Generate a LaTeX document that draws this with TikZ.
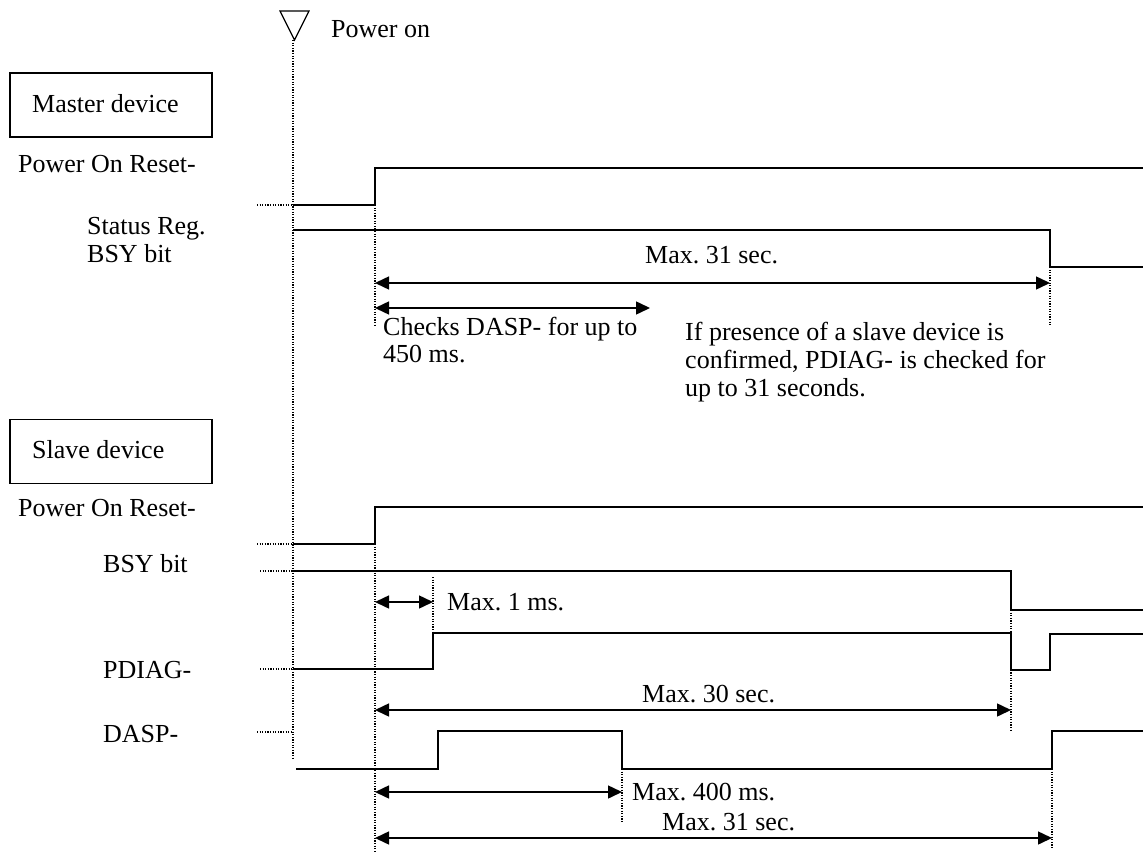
\documentclass[tikz,border=0pt]{standalone}
\usepackage{fontspec}
\setmainfont{Liberation Serif}
\usetikzlibrary{arrows.meta}
\frenchspacing
\begin{document}
\begin{tikzpicture}[x=1pt,y=-1pt,
  sig/.style={line width=1.5pt, line join=miter},
  guide/.style={line width=1.3pt, dash pattern=on 1.2pt off 1.4pt},
  span/.style={line width=1.5pt, {Triangle[length=14pt,width=13pt]}-{Triangle[length=14pt,width=13pt]}},
  lbl/.style={anchor=base west, inner sep=0pt, font=\fontsize{26}{27}\selectfont},
  devbox/.style={draw, line width=1.2pt, minimum width=202pt, minimum height=64pt, inner sep=0pt}
]
\useasboundingbox (0,0) rectangle (1143,853);

% power on marker
\draw[line width=1.2pt, line join=miter] (280,11) -- (309,11) -- (294.5,40) -- cycle;
\node[lbl] (pon) at (331,38) {Power on};
\coordinate (pt) at (293,40);
\coordinate (pb) at (293,758);
\draw[guide] (pt) -- (pb);

% ---------------- Master ----------------
\node[devbox] (mbox) at (111,105) {};
\node[lbl] (mtxt) at (32,113) {Master device};
\node[lbl] (mpor) at (18,173) {Power On Reset-};
\node[lbl] (mst1) at (87,235) {Status Reg.};
\node[lbl] (mst2) at (87,262) {BSY bit};

\draw[guide] (257,205) -- (293,205);
\draw[sig] (293,205) -- (375,205) -- (375,168) -- (1143,168);
\draw[sig] (293,230) -- (1050,230) -- (1050,267) -- (1143,267);
\draw[guide] (375,205) -- (375,325);
\draw[guide] (1050,267) -- (1050,325);

\coordinate (ma1) at (375,283);
\coordinate (ma2) at (1050,283);
\draw[span] (ma1) -- (ma2);
\node[lbl] (m31) at (645,263) {Max. 31 sec.};

\coordinate (mc1) at (375,308);
\coordinate (mc2) at (650,308);
\draw[span] (mc1) -- (mc2);
\node[lbl] (chk1) at (383,335) {Checks DASP- for up to};
\node[lbl] (chk2) at (383,362) {450 ms.};

\node[lbl] (ifp1) at (685,340) {If presence of a slave device is};
\node[lbl] (ifp2) at (685,368) {confirmed, PDIAG- is checked for};
\node[lbl] (ifp3) at (685,396) {up to 31 seconds.};

% ---------------- Slave ----------------
\node[devbox] (sbox) at (111,451.5) {};
\node[lbl] (stxt) at (32,458) {Slave device};
\node[lbl] (spor) at (18,516) {Power On Reset-};
\node[lbl] (sbsy) at (103,572) {BSY bit};
\node[lbl] (spd) at (103,678) {PDIAG-};
\node[lbl] (sda) at (103,742) {DASP-};

% POR
\draw[guide] (257,544) -- (293,544);
\draw[sig] (293,544) -- (375,544) -- (375,507) -- (1143,507);
% BSY
\draw[guide] (260,571) -- (293,571);
\draw[sig] (293,571) -- (1011,571) -- (1011,610) -- (1143,610);
% PDIAG
\draw[guide] (260,669) -- (293,669);
\draw[sig] (293,669) -- (433,669) -- (433,633) -- (1011,633) -- (1011,670) -- (1050,670) -- (1050,634) -- (1143,634);
% DASP
\draw[guide] (257,732) -- (293,732);
\draw[sig] (296,769) -- (438,769) -- (438,731) -- (622,731) -- (622,769) -- (1052,769) -- (1052,731) -- (1143,731);

% guides
\draw[guide] (375,544) -- (375,853);
\draw[guide] (433,577) -- (433,633);
\draw[guide] (1011,610) -- (1011,732);
\draw[guide] (622,769) -- (622,823);
\draw[guide] (1052,769) -- (1052,848);

% spans
\coordinate (s1a) at (375,602);
\coordinate (s1b) at (433,602);
\draw[span] (s1a) -- (s1b);
\node[lbl] (s1t) at (447,610) {Max. 1 ms.};

\coordinate (s30a) at (375,710);
\coordinate (s30b) at (1011,710);
\draw[span] (s30a) -- (s30b);
\node[lbl] (s30t) at (642,702) {Max. 30 sec.};

\coordinate (s400a) at (375,792);
\coordinate (s400b) at (622,792);
\draw[span] (s400a) -- (s400b);
\node[lbl] (s400t) at (632,800) {Max. 400 ms.};

\coordinate (s31a) at (375,838);
\coordinate (s31b) at (1052,838);
\draw[span] (s31a) -- (s31b);
\node[lbl] (s31t) at (662,830) {Max. 31 sec.};
\end{tikzpicture}
\end{document}
